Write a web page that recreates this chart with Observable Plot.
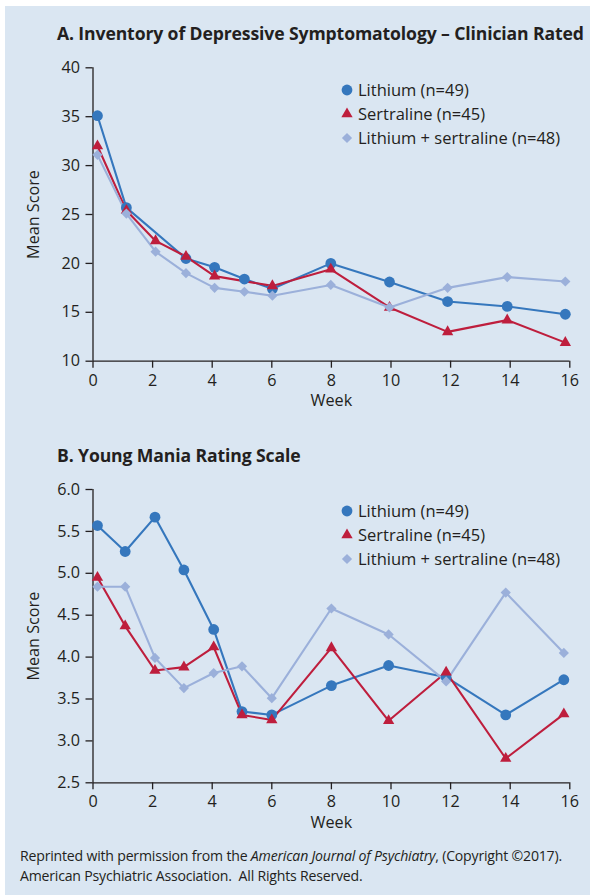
<!DOCTYPE html>
<html><head><meta charset="utf-8">
<script src="https://cdn.jsdelivr.net/npm/d3@7"></script>
<script src="https://cdn.jsdelivr.net/npm/@observablehq/plot@0.6"></script>
<style>
html,body{margin:0;padding:0;width:590px;height:895px;overflow:hidden;background:#fff;}
body{font-family:"Open Sans",sans-serif;color:#231f20;position:relative;}
#bg{position:absolute;left:5px;top:6px;width:600px;height:900px;background:#dae6f2;}
.title{position:absolute;left:57px;font-weight:700;font-size:17.6px;letter-spacing:-0.12px;white-space:nowrap;line-height:22px;}
.panel{position:absolute;left:0;}
.legend{position:absolute;left:339px;font-size:16.5px;letter-spacing:0px;line-height:24px;}
.legend .row{display:flex;align-items:center;height:24.2px;white-space:nowrap;}
.legend svg{width:16px;height:16px;margin-right:3px;overflow:visible;}
#caption{position:absolute;left:20px;top:846px;font-size:14.1px;letter-spacing:-0.2px;line-height:20px;white-space:nowrap;}
</style></head><body>
<div id="bg"></div>
<div id="titleA" class="title" style="top:22px">A. Inventory of Depressive Symptomatology – Clinician Rated</div>
<div id="panelA" class="panel" style="top:45px"></div>
<div id="legendA" class="legend" style="top:78px"></div>
<div id="titleB" class="title" style="top:444px">B. Young Mania Rating Scale</div>
<div id="panelB" class="panel" style="top:470px"></div>
<div id="legendB" class="legend" style="top:499px"></div>
<div id="caption">Reprinted with permission from the <i>American Journal of Psychiatry</i>, (Copyright ©2017).<br>American Psychiatric Association.&nbsp; All Rights Reserved.</div>
<script>
// ---- data ----
const seriesNames = ["Lithium (n=49)", "Sertraline (n=45)", "Lithium + sertraline (n=48)"];
const seriesColors = ["#3577bd", "#be1e3d", "#9bb0da"];
const seriesSymbols = ["circle", "triangle", "diamond2"];
const xTicks = [0, 2, 4, 6, 8, 10, 12, 14, 16];

// Panel A: Inventory of Depressive Symptomatology – Clinician Rated
const weeksA = [0.15, 1.12, 2.1, 3.12, 4.08, 5.08, 6.02, 7.98, 9.95, 11.9, 13.9, 15.85];
const idsLithium    = [35.1, 25.7, null, 20.5, 19.6, 18.4, 17.4, 20.0, 18.1, 16.1, 15.6, 14.8];
const idsSertraline = [32.0, 25.4, 22.3, 20.7, 18.7, null, 17.7, 19.4, 15.5, 13.0, 14.2, 11.9];
const idsCombo      = [31.1, 25.1, 21.2, 19.0, 17.5, 17.1, 16.7, 17.8, 15.5, 17.5, 18.6, 18.15];
const yTicksA = [10, 15, 20, 25, 30, 35, 40];

// Panel B: Young Mania Rating Scale
const weeksB = [0.15, 1.08, 2.08, 3.05, 4.05, 5.0, 6.0, 8.0, 9.92, 11.85, 13.85, 15.8];
const ymrsLithium    = [5.57, 5.26, 5.67, 5.04, 4.33, 3.35, 3.31, 3.66, 3.90, 3.76, 3.31, 3.73];
const ymrsSertraline = [4.95, 4.37, 3.84, 3.88, 4.12, 3.31, 3.25, 4.11, 3.24, 3.82, 2.79, 3.32];
const ymrsCombo      = [4.84, 4.84, 3.99, 3.63, 3.81, 3.89, 3.51, 4.58, 4.27, 3.71, 4.77, 4.05];
const yTicksB = [2.5, 3.0, 3.5, 4.0, 4.5, 5.0, 5.5, 6.0];

function table(weeks, lists) {
  const rows = [];
  lists.forEach((vals, i) => vals.forEach((v, j) => {
    if (v != null) rows.push({series: seriesNames[i], week: weeks[j], value: v});
  }));
  return rows;
}

const ink = "#231f20";
const radius = {"Lithium (n=49)": 5.4, "Sertraline (n=45)": 4.2, "Lithium + sertraline (n=48)": 4.6};

function panel({data, yDomain, yTicks, yFormat, mt, mb, h}) {
  return Plot.plot({
    width: 590, height: h,
    marginLeft: 92.5, marginRight: 20.7, marginTop: mt, marginBottom: mb,
    style: {fontFamily: "'Open Sans', sans-serif", fontSize: "16.2px", color: ink, background: "transparent", overflow: "visible"},
    x: {domain: [0, 16]},
    y: {domain: yDomain},
    color: {domain: seriesNames, range: seriesColors},
    symbol: {domain: seriesNames, range: seriesSymbols},
    marks: [
      Plot.axisX({ticks: xTicks, tickSize: 7, tickPadding: 6, stroke: ink, strokeWidth: 1.3, fill: ink,
        label: "Week", labelAnchor: "center", labelArrow: "none", labelOffset: 45}),
      Plot.axisY({ticks: yTicks, tickFormat: yFormat, tickSize: 7, tickPadding: 6, stroke: ink, strokeWidth: 1.3, fill: ink,
        label: "Mean Score", labelAnchor: "center", labelArrow: "none", labelOffset: 66}),
      Plot.ruleX([0], {stroke: ink, strokeWidth: 1.3}),
      Plot.ruleY([yDomain[0]], {stroke: ink, strokeWidth: 1.3}),
      Plot.line(data, {x: "week", y: "value", z: "series", stroke: "series", strokeWidth: 2.1}),
      ...seriesNames.map(s => Plot.dot(data.filter(d => d.series === s), {
        x: "week", y: "value", symbol: "series", fill: "series", r: radius[s], stroke: "none"}))
    ]
  });
}

const dataA = table(weeksA, [idsLithium, idsSertraline, idsCombo]);
const dataB = table(weeksB, [ymrsLithium, ymrsSertraline, ymrsCombo]);

document.getElementById("panelA").append(panel({
  data: dataA, yDomain: [10, 40], yTicks: yTicksA, yFormat: d3.format("d"), mt: 22.3, mb: 59.3, h: 375
}));
document.getElementById("panelB").append(panel({
  data: dataB, yDomain: [2.5, 6.0], yTicks: yTicksB, yFormat: d3.format(".1f"), mt: 19, mb: 62.7, h: 375
}));

function legend(el) {
  seriesNames.forEach((s, i) => {
    const row = document.createElement("div");
    row.className = "row";
    const svg = d3.create("svg").attr("viewBox", "-8 -8 16 16");
    const symType = [d3.symbolCircle, d3.symbolTriangle, d3.symbolDiamond2][i];
    const r = radius[s];
    svg.append("path").attr("d", d3.symbol(symType, Math.PI * r * r)()).attr("fill", seriesColors[i]);
    row.append(svg.node());
    const span = document.createElement("span");
    span.textContent = s;
    row.append(span);
    el.append(row);
  });
}
legend(document.getElementById("legendA"));
legend(document.getElementById("legendB"));
</script>
</body></html>
